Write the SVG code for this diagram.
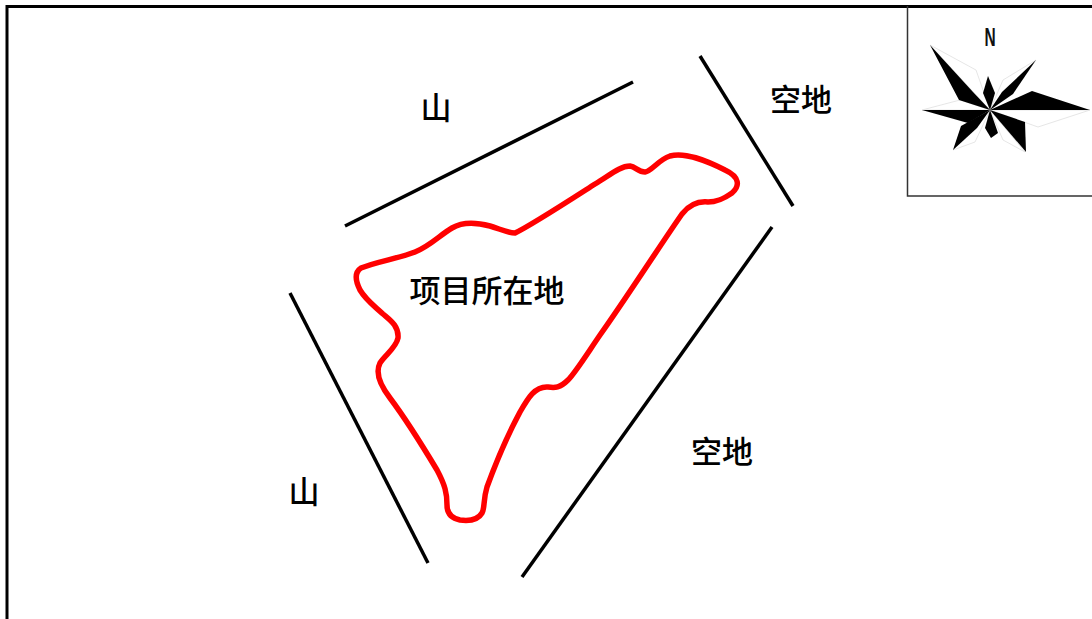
<svg xmlns="http://www.w3.org/2000/svg" width="1092" height="619" viewBox="0 0 1092 619">
  <style>
    .frame { fill: none; stroke: #000; stroke-width: 3; }
    .edge { stroke: #000; stroke-width: 3.5; stroke-linecap: butt; fill: none; }
    .site { fill: none; stroke: #ff0000; stroke-width: 5.5; stroke-linejoin: round; }
    .label { font-family: "Noto Sans CJK SC", "Noto Sans", sans-serif; font-size: 31px; font-weight: 500; fill: #000; text-anchor: middle; }
    .ray { fill: #000; }
    .rayw { fill: #fff; stroke: #e0e0e0; stroke-width: 0.8; }
  </style>

  <rect width="1092" height="619" fill="#fff"/>

  <!-- outer frame (top and left edges visible) -->
  <polyline class="frame" points="7,619 7,6.5 1092,6.5"/>

  <!-- surrounding boundary lines -->
  <g id="connectors">
    <line class="edge" x1="345" y1="226" x2="633" y2="82"/>
    <line class="edge" x1="700" y1="56" x2="793" y2="206"/>
    <line class="edge" x1="772" y1="227" x2="522" y2="577"/>
    <line class="edge" x1="290" y1="293" x2="428" y2="563"/>
  </g>

  <!-- project site outline -->
  <g id="site">
    <path class="site" d="M 361,268 C 375,262 400,258 415,252 C 430,246 440,235 452,228 C 462,222 475,222 490,226 C 500,229 508,233 515,233 C 530,226 570,200 595,184 C 610,175 620,166 630,166 C 636,167 638,172 645,172 C 652,171 658,160 670,156 C 685,152 705,160 725,170 C 740,177 740,186 732,193 C 722,200 716,202 708,202 C 698,201 690,204 682,214 C 665,238 625,300 600,335 C 585,357 575,373 568,380 C 560,388 555,388 548,387 C 535,386 528,398 520,412 C 505,440 495,465 487,487 C 483,500 485,508 482,513 C 478,520 468,521 460,520 C 450,518 447,512 447,505 C 447,493 445,485 437,470 C 425,450 405,418 390,398 C 380,385 375,373 380,363 C 385,355 396,348 398,338 C 399,326 390,320 383,314 C 372,304 366,300 360,290 C 355,280 355,272 361,268 Z"/>
    <text class="label" x="487" y="302">项目所在地</text>
  </g>

  <g id="mountain-north"><text class="label" x="436" y="119">山</text></g>
  <g id="mountain-west"><text class="label" x="304" y="503">山</text></g>
  <g id="open-land-ne"><text class="label" x="801" y="111">空地</text></g>
  <g id="open-land-se"><text class="label" x="722" y="463">空地</text></g>

  <!-- north arrow -->
  <g id="compass">
    <polyline points="907.5,6 907.5,196 1092,196" fill="none" stroke="#333" stroke-width="1.5"/>
    <text x="990" y="46" font-family="Liberation Sans, Arial, sans-serif" font-weight="bold" font-size="25" text-anchor="middle" transform="translate(990 0) scale(0.62 1) translate(-990 0)" fill="#111">N</text>
    <!-- white halves -->
    <polygon class="rayw" points="990,110 1038,127 1090,110"/>
    <polygon class="rayw" points="990,110 960,100 922,110"/>
    <polygon class="rayw" points="990,110 976,70 930,45"/>
    <polygon class="rayw" points="990,110 1003,80 1036,60"/>
    <polygon class="rayw" points="990,110 1003,140 1025,152"/>
    <polygon class="rayw" points="990,110 975,142 953,150"/>
    <!-- black halves -->
    <polygon class="ray" points="990,110 1032,91 1090,110"/>
    <polygon class="ray" points="990,110 968,123 922,110"/>
    <polygon class="ray" points="990,110 959,100 930,45 973,92"/>
    <polygon class="ray" points="990,110 1013,94 1036,60 1002,92"/>
    <polygon class="ray" points="990,110 1025,122 1026,152"/>
    <polygon class="ray" points="990,110 961,126 953,150 977,128"/>
    <polygon class="ray" points="990,110 983,93 988,76 995,93"/>
    <polygon class="ray" points="990,110 985,128 991,138 998,133"/>
    <circle cx="990" cy="110" r="1.5" fill="#666"/>
  </g>
</svg>
